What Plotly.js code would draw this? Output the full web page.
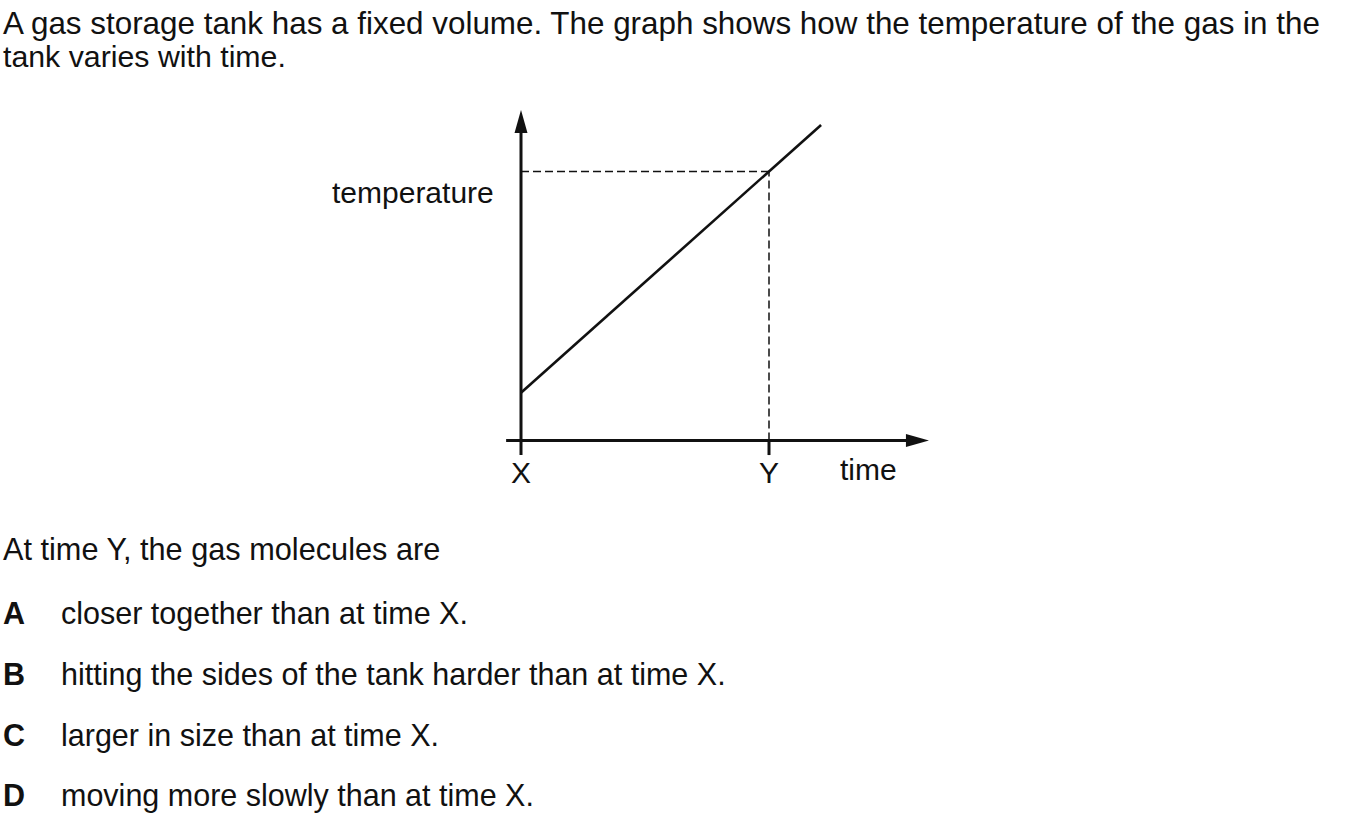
<!DOCTYPE html>
<html>
<head>
<meta charset="utf-8">
<script src="https://cdn.plot.ly/plotly-3.0.1.min.js"></script>
<style>html,body{margin:0;padding:0;background:#fff;}#chart{width:1354px;height:821px;}</style>
</head>
<body>
<div id="chart"></div>
<script>
// ---- data ----
const lineTime = [0, 1.21];          // time (X = 0, Y = 1)
const lineTemperature = [0.177, 1.171];
const tickPositions = [0, 1];
const tickLabels = ['X', 'Y'];
const timeAxisExtent = [-0.06, 1.645];
const tempAxisExtent = [-0.054, 1.226];

const questionLines = [
  'A gas storage tank has a fixed volume. The graph shows how the temperature of the gas in the',
  'tank varies with time.'
];
const stemText = 'At time Y, the gas molecules are';
const optionLetters = ['A', 'B', 'C', 'D'];
const optionTexts = [
  'closer together than at time X.',
  'hitting the sides of the tank harder than at time X.',
  'larger in size than at time X.',
  'moving more slowly than at time X.'
];

// ---- layout helpers ----
const W = 1354, H = 821;
const px = x => x / W;
const py = y => 1 - y / H;
const FONT = 'Liberation Sans, Arial, Helvetica, sans-serif';
const INK = '#111';

// temperature of the line at time Y (read through the line itself)
const slope = (lineTemperature[1] - lineTemperature[0]) / (lineTime[1] - lineTime[0]);
const tempAtY = lineTemperature[0] + slope * (tickPositions[1] - lineTime[0]);

const traces = [{
  x: lineTime, y: lineTemperature, type: 'scatter', mode: 'lines',
  line: {color: INK, width: 2.6}, hoverinfo: 'skip', showlegend: false
}];

const shapes = [
  // dashed guides
  {type: 'line', xref: 'x', yref: 'y', x0: tickPositions[0], x1: tickPositions[1], y0: tempAtY, y1: tempAtY,
   line: {color: INK, width: 1.5, dash: '8px,4px'}, layer: 'below'},
  {type: 'line', xref: 'x', yref: 'y', x0: tickPositions[1], x1: tickPositions[1], y0: 0, y1: tempAtY,
   line: {color: INK, width: 1.5, dash: '8px,4px'}, layer: 'below'},
  // axes
  {type: 'line', xref: 'x', yref: 'y', x0: timeAxisExtent[0], x1: timeAxisExtent[1] - 0.04, y0: 0, y1: 0,
   line: {color: INK, width: 3}},
  {type: 'line', xref: 'x', yref: 'y', x0: 0, x1: 0, y0: tempAxisExtent[0], y1: tempAxisExtent[1] - 0.04,
   line: {color: INK, width: 3}},
  // tick at Y
  {type: 'line', xref: 'x', yref: 'y', x0: tickPositions[1], x1: tickPositions[1], y0: 0, y1: tempAxisExtent[0],
   line: {color: INK, width: 3}},
  // arrow heads (pixel sized, anchored at axis ends)
  {type: 'path', xref: 'x', yref: 'y', xsizemode: 'pixel', ysizemode: 'pixel',
   xanchor: timeAxisExtent[1], yanchor: 0, path: 'M0,0 L-23,6.5 L-23,-6.5 Z',
   fillcolor: INK, line: {width: 0}},
  {type: 'path', xref: 'x', yref: 'y', xsizemode: 'pixel', ysizemode: 'pixel',
   xanchor: 0, yanchor: tempAxisExtent[1], path: 'M0,0 L-6.5,-23 L6.5,-23 Z',
   fillcolor: INK, line: {width: 0}}
];

const labelFont = {family: FONT, size: 30, color: INK};
const headFonts = [{family: FONT, size: 31.4, color: INK}, {family: FONT, size: 30.3, color: INK}];
const bodyFont = {family: FONT, size: 30.5, color: INK};
const annotations = [];
// question text
const qY = [23, 57];
questionLines.forEach((t, i) => annotations.push({
  xref: 'paper', yref: 'paper', x: px(1), y: py(qY[i]), xanchor: 'left', yanchor: 'middle',
  text: t, showarrow: false, font: headFonts[i]
}));
// axis labels
annotations.push({xref: 'paper', yref: 'paper', x: px(496), y: py(192), xanchor: 'right', yanchor: 'middle',
  text: 'temperature', showarrow: false, font: labelFont});
annotations.push({xref: 'paper', yref: 'paper', x: px(838), y: py(469), xanchor: 'left', yanchor: 'middle',
  text: 'time', showarrow: false, font: labelFont});
tickPositions.forEach((t, i) => annotations.push({
  xref: 'x', yref: 'paper', x: t, y: py(472), xanchor: 'center', yanchor: 'middle',
  text: tickLabels[i], showarrow: false, font: labelFont
}));
// stem and options
annotations.push({xref: 'paper', yref: 'paper', x: px(1), y: py(549), xanchor: 'left', yanchor: 'middle',
  text: stemText, showarrow: false, font: {family: FONT, size: 30.7, color: INK}});
const optY = [613, 674, 735, 795];
optionLetters.forEach((L, i) => {
  annotations.push({xref: 'paper', yref: 'paper', x: px(1), y: py(optY[i]), xanchor: 'left', yanchor: 'middle',
    text: '<b>' + L + '</b>', showarrow: false, font: bodyFont});
  annotations.push({xref: 'paper', yref: 'paper', x: px(59), y: py(optY[i]), xanchor: 'left', yanchor: 'middle',
    text: optionTexts[i], showarrow: false, font: bodyFont});
});

const layout = {
  width: W, height: H,
  margin: {l: 0, r: 0, t: 0, b: 0},
  paper_bgcolor: '#fff', plot_bgcolor: 'rgba(0,0,0,0)',
  showlegend: false,
  xaxis: {domain: [px(496), px(944)], range: [(496 - 521) / 248, (944 - 521) / 248], visible: false, fixedrange: true},
  yaxis: {domain: [py(470), py(100)], range: [(440.5 - 470) / 269.5, (440.5 - 100) / 269.5], visible: false, fixedrange: true},
  shapes: shapes,
  annotations: annotations
};

Plotly.newPlot('chart', traces, layout, {displayModeBar: false, staticPlot: true});
</script>
</body>
</html>
